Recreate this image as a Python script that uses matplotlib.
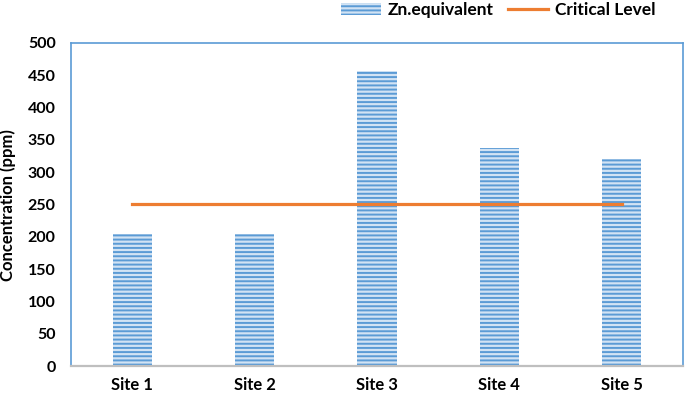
import matplotlib.pyplot as plt
import numpy as np

sites = ['Site 1', 'Site 2', 'Site 3', 'Site 4', 'Site 5']
zn_equivalent = [205, 205, 456, 338, 321]
critical_level = [250, 250, 250, 250, 250]

plt.rcParams['font.family'] = ['Lato', 'DejaVu Sans']
plt.rcParams['font.weight'] = 'bold'
plt.rcParams['hatch.linewidth'] = 1.4

fig = plt.figure(figsize=(6.85, 3.93), dpi=100)
ax = fig.add_axes([0.1036, 0.0687, 0.8934, 0.822])

x = np.arange(len(sites))
bars = ax.bar(x, zn_equivalent, width=0.32, color='#d2e3f4', edgecolor='#5b9bd5',
              linewidth=0, hatch='----', label='Zn.equivalent')
line, = ax.plot(x, critical_level, color='#ed7d31', linewidth=2.3, label='Critical Level')

ax.set_xlim(-0.5, 4.5)
ax.set_ylim(0, 500)
ax.set_yticks(np.arange(0, 501, 50))
ax.set_xticks(x)
ax.set_xticklabels(sites)
ax.tick_params(axis='y', length=0, labelsize=11.5, pad=11)
ax.tick_params(axis='x', length=0, labelsize=12, pad=8)

for side in ['left', 'top', 'right']:
    ax.spines[side].set_color('#5b9bd5')
    ax.spines[side].set_linewidth(1.2)
ax.spines['bottom'].set_color('#bfbfbf')
ax.spines['bottom'].set_linewidth(1.6)

fig.text(8 / 685, 1 - 205 / 393, 'Concentration (ppm)', rotation=90,
         ha='center', va='center', fontsize=12, fontweight='bold')

fig.legend(handles=[bars, line], loc='center', bbox_to_anchor=(498 / 685, 1 - 10 / 393),
           ncol=2, frameon=False, fontsize=12.5, handlelength=2.3, columnspacing=0.8,
           handletextpad=0.4)

fig.savefig('out.png', dpi=100)
